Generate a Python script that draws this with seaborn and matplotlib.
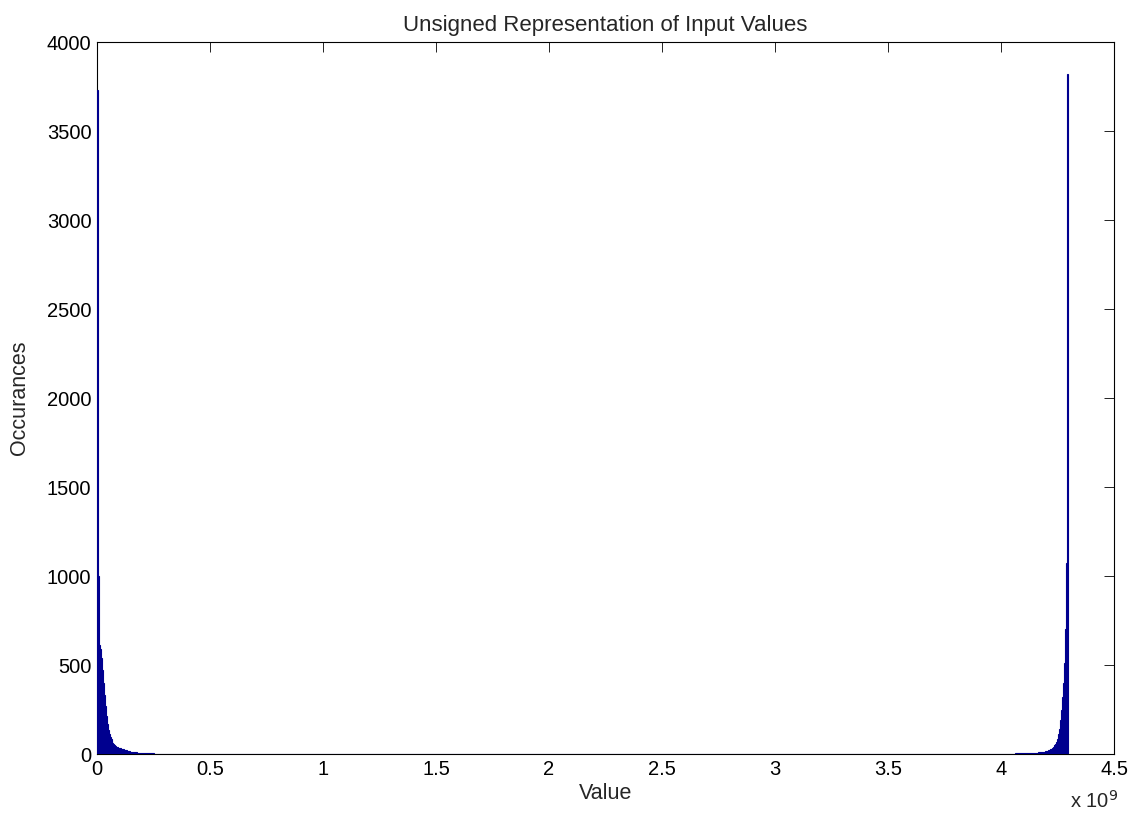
import numpy as np
import pandas as pd
import seaborn as sns
import matplotlib
matplotlib.use("Agg")
import matplotlib.pyplot as plt
from matplotlib.ticker import FuncFormatter, MultipleLocator

# histogram of the input values read as unsigned 32-bit integers, 1000 bins
n_bins = 1000
value_max = 2 ** 32

# counts of the first bins (small positive values)
low_counts = [3730, 1000, 615, 590, 540, 470, 400, 330, 270, 215, 170, 135, 112, 95, 82,
              72, 64, 57, 51, 46, 42, 39, 36, 34, 32, 30, 28, 26, 24, 22, 20, 18, 16, 15,
              14, 13, 12, 11, 10, 9, 9, 8, 8, 7, 7, 6, 6, 5, 5, 5, 4, 4, 4, 4, 3, 3, 3, 3,
              3, 2, 2, 2, 2, 2, 2, 2, 1, 1, 1, 1, 1, 1, 1, 1, 1, 1]
# counts of the last bins (small negative values wrapped round), last bin first
high_counts = [3820, 1073, 700, 510, 400, 320, 250, 190, 140, 110, 85, 70, 58, 48, 40, 34,
               30, 26, 23, 20, 18, 16, 15, 14, 13, 12, 11, 10, 10, 9, 9, 8, 8, 7, 7, 7, 6,
               6, 6, 5, 5, 5, 5, 4, 4, 4, 4, 4, 3, 3, 3, 3, 3, 3, 2, 2, 2, 2, 2, 2, 2, 2, 1,
               1, 1, 1, 1, 1, 1, 1, 1, 1, 1, 1, 1, 1]

counts = low_counts + [0] * (n_bins - len(low_counts) - len(high_counts)) + high_counts[::-1]
edges = np.linspace(0, value_max, n_bins + 1)
df = pd.DataFrame({"value": (edges[:-1] + edges[1:]) / 2, "count": counts})

sns.set_style("white")
plt.rcParams["font.family"] = ["Liberation Sans", "DejaVu Sans"]

fig = plt.figure(figsize=(11.38, 8.14), dpi=100)
ax = fig.add_axes([0.0852, 0.0737, 0.8938, 0.8745])

bar_color = "#00008F"
sns.histplot(data=df, x="value", weights="count", bins=n_bins, binrange=(0, value_max),
             color=bar_color, edgecolor=bar_color, linewidth=0.8, alpha=1, ax=ax)
# MATLAB draws the bar outlines over the axis line
for p in ax.patches:
    p.set_zorder(3)

ax.set_xlim(0, 4.5e9)
ax.set_ylim(0, 4000)
ax.xaxis.set_major_locator(MultipleLocator(0.5e9))
ax.yaxis.set_major_locator(MultipleLocator(500))
ax.xaxis.set_major_formatter(FuncFormatter(lambda v, p: f"{v / 1e9:g}"))

for s in ax.spines.values():
    s.set_visible(True)
    s.set_color("black")
    s.set_linewidth(0.8)
ax.tick_params(direction="in", length=7, width=0.6, top=True, right=True,
               labelsize=14.5, colors="black", pad=4)

ax.set_title("Unsigned Representation of Input Values", fontsize=16, pad=8)
ax.set_xlabel("Value", fontsize=15.5, labelpad=3)
ax.set_ylabel("Occurances", fontsize=15.5, labelpad=12)
ax.text(1.004, -0.0758, r"x 10$^{9}$", transform=ax.transAxes, ha="right", va="baseline",
        fontsize=14.5)

fig.savefig("out.png", dpi=100, facecolor="white")
